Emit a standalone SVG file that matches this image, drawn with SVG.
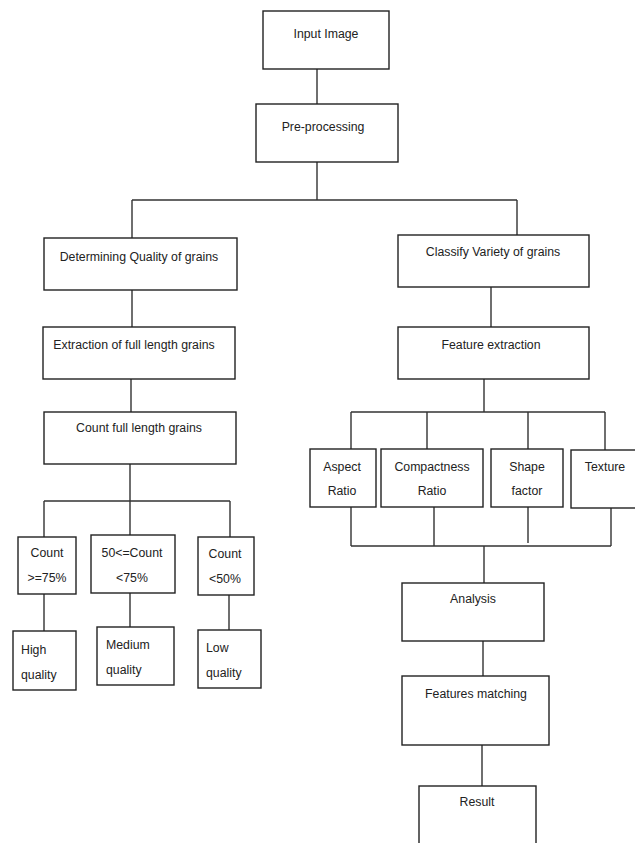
<svg xmlns="http://www.w3.org/2000/svg" width="635" height="843" viewBox="0 0 635 843">
<style>
.b{fill:#fff;stroke:#222;stroke-width:1.4}
.c{fill:none;stroke:#333;stroke-width:1.4}
text{font-family:"Liberation Sans",Arial,sans-serif;font-size:12.3px;fill:#222}
.m{text-anchor:middle}
</style>
<rect width="635" height="843" fill="#fff"/>
<g id="connectors">
<path class="c" d="M317 69V104M317 162V200M132 200H517M132 200V238M517 200V235"/>
<path class="c" d="M132 290V327M131 379V412M130 464V501M44 501H230M44 501V537M130 501V535M230 501V537"/>
<path class="c" d="M44 594V631M130 593V627M229 595V630"/>
<path class="c" d="M491 287V327M484 379V412M351 412H605M351 412V449M427 412V449M528 412V449M605 412V450"/>
<path class="c" d="M351 507V546M434 507V546M528 507V543M611 508V546M351 546H611M484 546V583"/>
<path class="c" d="M483 641V676M482 745V786"/>
</g>
<g id="input"><rect class="b" x="263" y="11" width="126" height="58"/><text class="m" x="326" y="38">Input Image</text></g>
<g id="pre"><rect class="b" x="256" y="104" width="142" height="58"/><text class="m" x="323" y="131">Pre-processing</text></g>
<g id="determine"><rect class="b" x="44" y="238" width="193" height="52"/><text class="m" x="139" y="261">Determining Quality of grains</text></g>
<g id="extract"><rect class="b" x="43" y="327" width="192" height="52"/><text class="m" x="134" y="349">Extraction of full length grains</text></g>
<g id="count"><rect class="b" x="44" y="412" width="192" height="52"/><text class="m" x="139" y="432">Count full length grains</text></g>
<g id="c75"><rect class="b" x="18" y="537" width="58" height="57"/><text class="m" x="47" y="557">Count</text><text class="m" x="47" y="582">&gt;=75%</text></g>
<g id="c50_75"><rect class="b" x="91" y="535" width="84" height="58"/><text class="m" x="132" y="557">50&lt;=Count</text><text class="m" x="132" y="582">&lt;75%</text></g>
<g id="c50"><rect class="b" x="198" y="537" width="56" height="58"/><text class="m" x="225" y="558">Count</text><text class="m" x="225" y="583">&lt;50%</text></g>
<g id="high"><rect class="b" x="13" y="631" width="63" height="59"/><text x="21" y="654">High</text><text x="21" y="679">quality</text></g>
<g id="medium"><rect class="b" x="97" y="627" width="77" height="58"/><text x="106" y="649">Medium</text><text x="106" y="674">quality</text></g>
<g id="low"><rect class="b" x="198" y="630" width="63" height="58"/><text x="206" y="652">Low</text><text x="206" y="677">quality</text></g>
<g id="classify"><rect class="b" x="398" y="235" width="191" height="52"/><text class="m" x="493" y="256">Classify Variety of grains</text></g>
<g id="feature"><rect class="b" x="398" y="327" width="191" height="52"/><text class="m" x="491" y="349">Feature extraction</text></g>
<g id="aspect"><rect class="b" x="310" y="449" width="66" height="58"/><text class="m" x="342" y="471">Aspect</text><text class="m" x="342" y="495">Ratio</text></g>
<g id="compact"><rect class="b" x="381" y="449" width="102" height="58"/><text class="m" x="432" y="471">Compactness</text><text class="m" x="432" y="495">Ratio</text></g>
<g id="shape"><rect class="b" x="491" y="449" width="72" height="58"/><text class="m" x="527" y="471">Shape</text><text class="m" x="527" y="495">factor</text></g>
<g id="texture"><rect class="b" x="571" y="450" width="70" height="58"/><text class="m" x="605" y="471">Texture</text></g>
<g id="analysis"><rect class="b" x="402" y="583" width="142" height="58"/><text class="m" x="473" y="603">Analysis</text></g>
<g id="matching"><rect class="b" x="402" y="676" width="147" height="69"/><text class="m" x="476" y="698">Features matching</text></g>
<g id="result"><rect class="b" x="419" y="786" width="117" height="70"/><text class="m" x="477" y="806">Result</text></g>
</svg>
